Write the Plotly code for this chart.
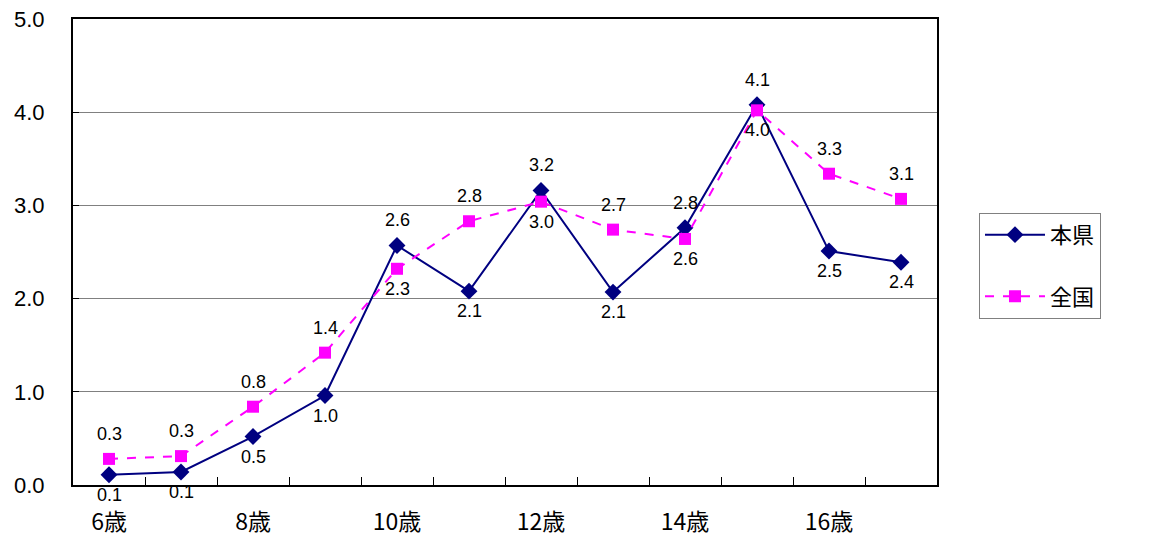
import plotly.graph_objects as go

ages = ["6歳", "7歳", "8歳", "9歳", "10歳", "11歳", "12歳", "13歳", "14歳", "15歳", "16歳", "17歳"]
honken = [0.11, 0.14, 0.52, 0.96, 2.57, 2.08, 3.16, 2.07, 2.76, 4.08, 2.51, 2.39]
zenkoku = [0.28, 0.31, 0.84, 1.42, 2.32, 2.83, 3.04, 2.74, 2.64, 4.02, 3.34, 3.07]
honken_pos = ["below", "below", "below", "below", "above", "below", "above", "below", "above", "above", "below", "below"]
zenkoku_pos = ["above", "above", "above", "above", "below", "above", "below", "above", "below", "below", "above", "above"]
ytick_vals = [0, 1, 2, 3, 4, 5]
xlabel_idx = [0, 2, 4, 6, 8, 10]

FONT = "Liberation Sans, Arial, Noto Sans CJK JP, sans-serif"
JFONT = "Noto Sans CJK JP, sans-serif"
xs = list(range(len(ages)))

fig = go.Figure()
fig.add_trace(go.Scatter(
    x=xs, y=honken, name="本県", mode="lines+markers", legendgroup="a",
    line=dict(color="#000080", width=2),
    marker=dict(symbol="diamond", size=13, color="#000080"),
))
fig.add_trace(go.Scatter(
    x=xs, y=zenkoku, name="全国", mode="lines+markers", legendgroup="b",
    line=dict(color="#FF00FF", width=2, dash="dash"),
    marker=dict(symbol="square", size=12, color="#FF00FF"),
))

annotations = []
for vals, poss in ((honken, honken_pos), (zenkoku, zenkoku_pos)):
    for i, (v, p) in enumerate(zip(vals, poss)):
        annotations.append(dict(
            x=i, y=v, text=f"{v:.1f}", showarrow=False,
            yshift=25 if p == "above" else -20,
            font=dict(family=FONT, size=18, color="#000000"),
        ))

# page body has an 8px margin; size/margins compensate so the plot lands where the reference has it
fig.update_layout(
    width=1144, height=529,
    margin=dict(l=65, r=215, t=11, b=52, autoexpand=False),
    paper_bgcolor="white", plot_bgcolor="white",
    font=dict(family=FONT, color="#000000"),
    annotations=annotations,
    showlegend=True,
    legend=dict(
        x=1.0486, xanchor="left", y=0.584, yanchor="top",
        bordercolor="#808080", borderwidth=1, bgcolor="white",
        font=dict(family=JFONT, size=22),
        tracegroupgap=30, traceorder="grouped",
        itemwidth=60,
    ),
)
fig.update_xaxes(
    range=[-0.5, len(ages) - 0.5],
    tickvals=xlabel_idx, ticktext=[ages[i] for i in xlabel_idx],
    ticks="", showgrid=False, zeroline=False,
    showline=True, linecolor="#000000", linewidth=2, mirror=True,
    tickfont=dict(family=JFONT, size=23),
    ticklabelstandoff=15, ticklabeloverflow="allow",
    minor=dict(tickvals=[i + 0.5 for i in range(len(ages) - 1)], ticks="inside",
               ticklen=8, tickcolor="#000000", tickwidth=1, showgrid=False),
)
fig.update_yaxes(
    range=[0, 5], tickvals=ytick_vals, tickformat=".1f",
    ticks="inside", ticklen=6, tickcolor="#000000",
    showgrid=True, gridcolor="#808080", gridwidth=1, zeroline=False,
    showline=True, linecolor="#000000", linewidth=2, mirror=True,
    tickfont=dict(family=FONT, size=22),
    ticklabelstandoff=22, ticklabeloverflow="allow",
)

fig.write_html("out.html")
